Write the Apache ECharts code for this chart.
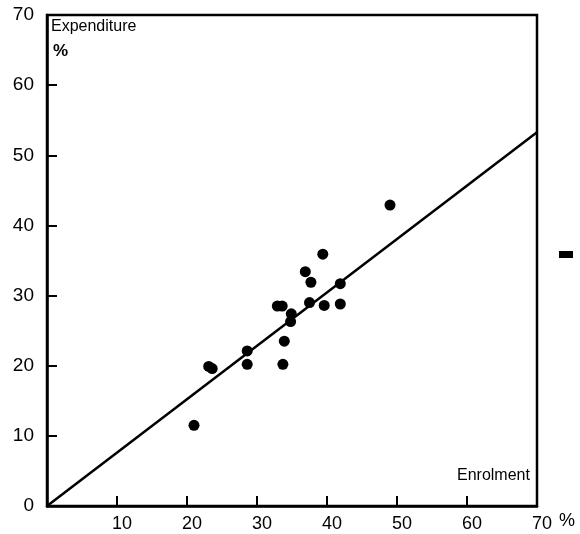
<!DOCTYPE html>
<html>
<head>
<meta charset="utf-8">
<script src="https://cdn.jsdelivr.net/npm/echarts@6/dist/echarts.min.js"></script>
<style>html,body{margin:0;padding:0;background:#fff}#c{width:580px;height:534px}</style>
</head>
<body>
<div id="c"></div>
<script>
// Enrolment share (%) vs expenditure share (%)
var enrolment   = [21.0, 23.1, 23.6, 28.6, 28.6, 32.9, 33.6, 33.9, 33.7, 34.8, 34.9, 36.9, 37.7, 37.5, 39.4, 39.6, 41.9, 41.9, 49.0];
var expenditure = [11.5, 19.9, 19.6, 22.1, 20.2, 28.5, 28.5, 23.5, 20.2, 26.3, 27.4, 33.4, 31.9, 29.0, 35.9, 28.6, 31.7, 28.8, 42.9];
var lineX = [0, 70];
var lineY = [0, 53.3];
var xTicks = [10, 20, 30, 40, 50, 60, 70];
var yTicks = [0, 10, 20, 30, 40, 50, 60, 70];

var pts = enrolment.map(function (x, i) { return [x, expenditure[i]]; });
var linePts = lineX.map(function (x, i) { return [x, lineY[i]]; });
var font = 'Liberation Sans';

var chart = echarts.init(document.getElementById('c'), null, {renderer: 'canvas'});
chart.setOption({
  animation: false,
  backgroundColor: '#fff',
  grid: {left: 47, right: 43, top: 15, bottom: 28, show: true, borderColor: '#000', borderWidth: 2.5, backgroundColor: 'transparent'},
  xAxis: {
    type: 'value', min: 0, max: 70, interval: 10,
    axisLine: {show: true, lineStyle: {color: '#000', width: 2.5}},
    axisTick: {show: true, inside: true, length: 10, lineStyle: {color: '#000', width: 2}},
    splitLine: {show: false},
    axisLabel: {
      color: '#000', fontFamily: font, fontSize: 18, margin: 9, padding: [0, 0, 0, 10],
      formatter: function (v) { return xTicks.indexOf(v) >= 0 ? String(v) : ''; }
    }
  },
  yAxis: {
    type: 'value', min: 0, max: 70, interval: 10,
    axisLine: {show: true, lineStyle: {color: '#000', width: 2.5}},
    axisTick: {show: true, inside: true, length: 10, lineStyle: {color: '#000', width: 2}},
    splitLine: {show: false},
    axisLabel: {
      color: '#000', fontFamily: font, fontSize: 19, margin: 13,
      formatter: function (v) { return yTicks.indexOf(v) >= 0 ? String(v) : ''; }
    }
  },
  series: [
    {
      type: 'line', data: linePts, showSymbol: false, symbol: 'none',
      lineStyle: {color: '#000', width: 2.5}, silent: true, z: 2
    },
    {
      type: 'scatter', data: pts, symbol: 'circle', symbolSize: 11,
      itemStyle: {color: '#000', opacity: 1}, z: 3
    }
  ],
  graphic: [
    {type: 'text', left: 51, top: 19, style: {text: 'Expenditure', font: '16px "Liberation Sans"', fill: '#000'}},
    {type: 'text', left: 53, top: 43, style: {text: '%', font: 'bold 17px "Liberation Sans"', fill: '#000'}},
    {type: 'text', left: 457, top: 468, style: {text: 'Enrolment', font: '16px "Liberation Sans"', fill: '#000'}},
    {type: 'text', left: 559, top: 512, style: {text: '%', font: '18px "Liberation Sans"', fill: '#000'}},
    {type: 'rect', shape: {x: 559, y: 251, width: 14, height: 7}, style: {fill: '#000'}}
  ]
});
</script>
</body>
</html>
